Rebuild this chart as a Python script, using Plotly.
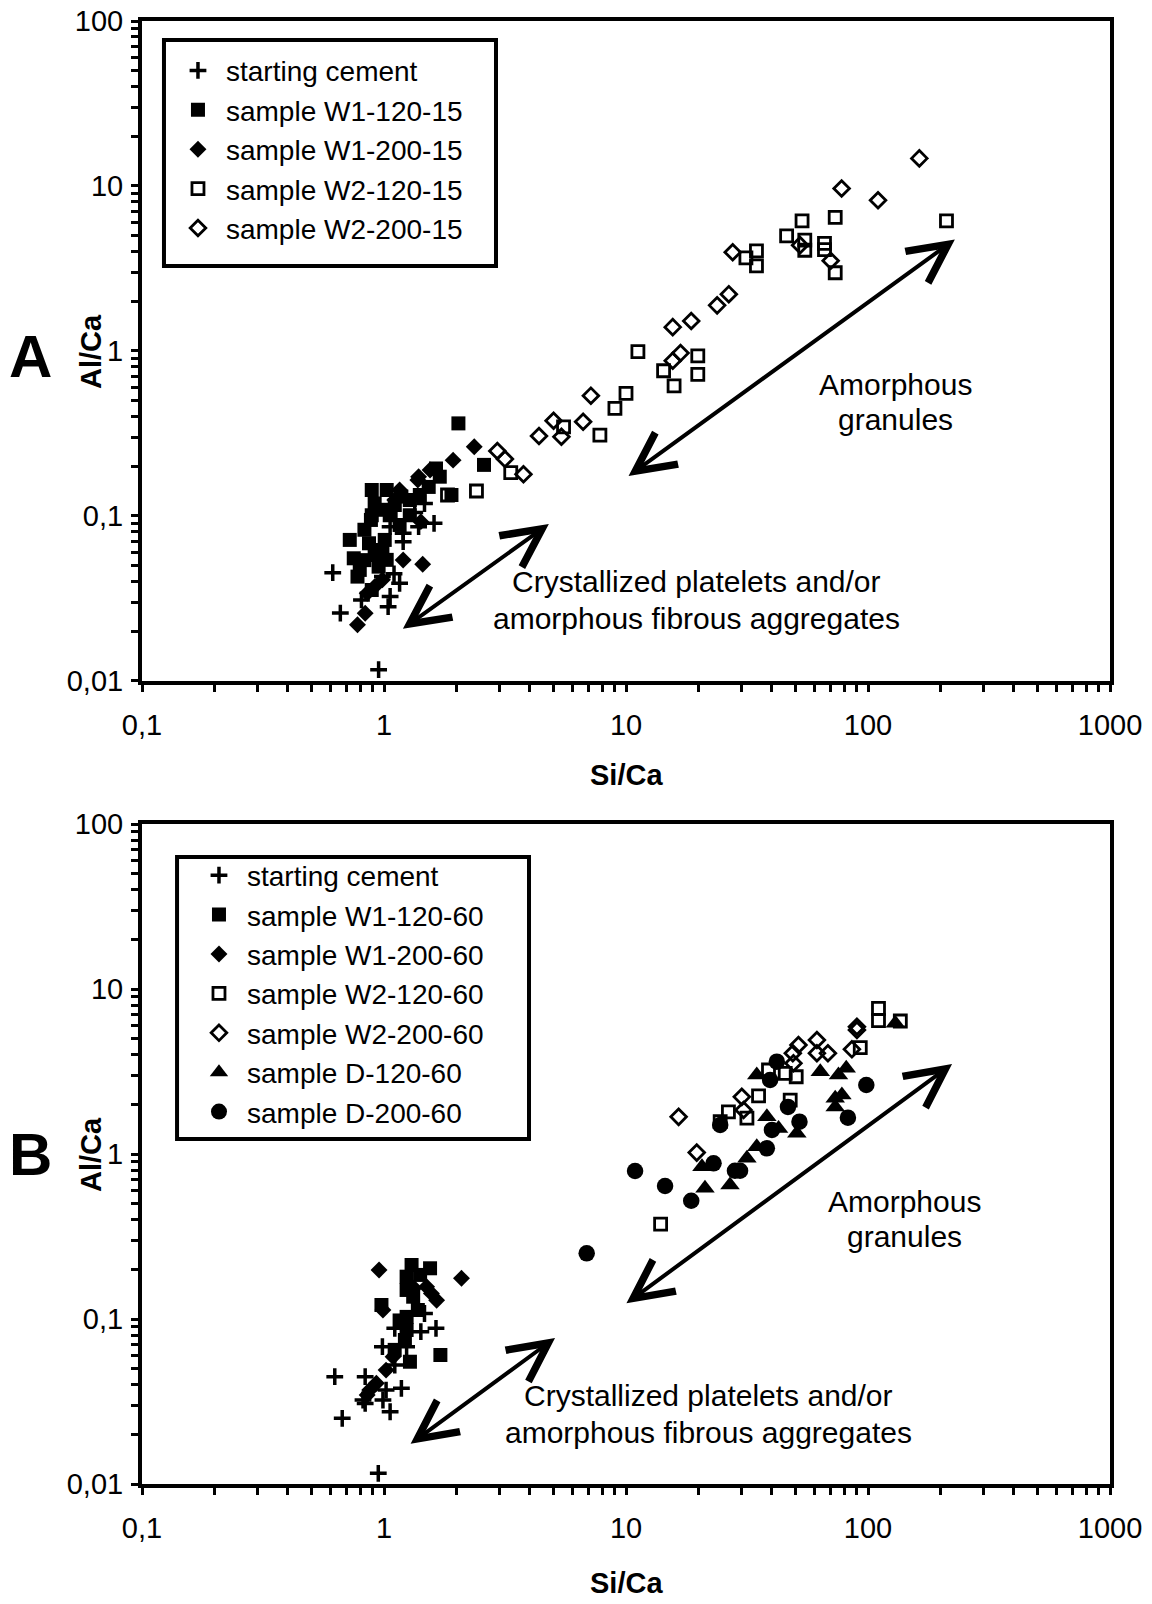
import numpy as np
import plotly.graph_objects as go

FONT = "Liberation Sans, Arial, sans-serif"

# ---------------- panel A data (Si/Ca, Al/Ca) ----------------
a_cement_x = [0.614, 0.66, 0.95, 1.61, 1.39, 1.47, 1.20, 1.20, 1.16, 1.04, 1.06, 0.807, 0.985, 1.10, 1.12, 1.06, 1.34]
a_cement_y = [0.0453, 0.0258, 0.0117, 0.0903, 0.0861, 0.119, 0.0786, 0.0699, 0.0391, 0.0282, 0.0325, 0.031, 0.0429, 0.0446, 0.0946, 0.0861, 0.105]

a_w1_120_x = [2.03, 2.59, 1.70, 1.90, 1.53, 1.64, 0.915, 0.985, 0.883, 1.18, 0.867, 0.985, 0.75, 0.777, 0.95, 1.056,
              1.108, 1.278, 1.406, 0.83, 0.915, 0.83, 0.89, 1.026, 0.89, 1.278, 1.16, 0.722, 1.007, 0.794, 0.89, 1.026]
a_w1_120_y = [0.364, 0.204, 0.173, 0.134, 0.150, 0.194, 0.119, 0.109, 0.0946, 0.131, 0.0683, 0.0622, 0.0554, 0.0429, 0.0493, 0.101,
              0.1165, 0.125, 0.134, 0.0825, 0.058, 0.054, 0.1437, 0.1437, 0.101, 0.101, 0.0882, 0.0716, 0.0716, 0.0471, 0.0356, 0.0542]

a_w1_200_x = [2.36, 1.93, 1.39, 1.16, 1.42, 1.20, 1.445, 0.777, 0.836, 0.915, 0.985, 0.852, 1.55, 1.38, 1.108]
a_w1_200_y = [0.263, 0.218, 0.173, 0.1437, 0.0924, 0.0541, 0.051, 0.0219, 0.0257, 0.0373, 0.041, 0.034, 0.19, 0.165, 0.125]

a_w2_120_x = [211, 73.2, 53.4, 46.1, 54.8, 54.8, 66.1, 66.1, 73.2, 34.6, 34.6, 31.3, 11.2, 19.8, 19.8, 14.3, 15.8, 10.0, 9.0, 7.8, 5.52, 3.34, 2.41, 1.83]
a_w2_120_y = [6.15, 6.45, 6.15, 4.99, 4.70, 4.08, 4.49, 4.11, 2.98, 4.04, 3.28, 3.67, 0.99, 0.935, 0.722, 0.759, 0.615, 0.553, 0.449, 0.309, 0.347, 0.183, 0.1417, 0.134]

a_w2_200_x = [163, 77.8, 110, 27.6, 52.4, 70.1, 26.6, 23.8, 18.6, 15.6, 16.8, 15.6, 7.16, 6.65, 5.02, 5.41, 4.37, 2.94, 3.16, 3.77]
a_w2_200_y = [14.7, 9.66, 8.2, 3.97, 4.38, 3.52, 2.21, 1.89, 1.52, 1.395, 0.971, 0.872, 0.536, 0.3725, 0.378, 0.302, 0.305, 0.2475, 0.2215, 0.179]

# ---------------- panel B data ----------------
b_cement_x = [0.626, 0.672, 0.836, 0.836, 1.06, 1.18, 1.64, 1.42, 1.47, 0.985, 1.108, 1.24, 0.947, 1.02, 0.99, 0.819, 1.108]
b_cement_y = [0.0447, 0.025, 0.0447, 0.0308, 0.0274, 0.038, 0.0878, 0.0838, 0.108, 0.068, 0.0878, 0.068, 0.0116, 0.0371, 0.0323, 0.0323, 0.0526]

b_w1_120_x = [1.30, 1.55, 1.24, 1.24, 1.32, 0.976, 1.24, 1.24, 1.22, 1.28, 1.71, 1.41, 1.16, 1.107, 1.38]
b_w1_120_y = [0.2125, 0.203, 0.1805, 0.15, 0.1365, 0.1216, 0.103, 0.0858, 0.0746, 0.0551, 0.0605, 0.185, 0.098, 0.065, 0.1134]

b_w1_200_x = [0.954, 2.09, 1.57, 1.65, 1.50, 0.99, 0.93, 0.873, 1.02, 1.09, 0.852, 1.33]
b_w1_200_y = [0.198, 0.1765, 0.143, 0.130, 0.157, 0.1134, 0.0408, 0.0371, 0.049, 0.059, 0.0346, 0.154]

b_w2_120_x = [110.5, 110.5, 136, 92.9, 50.5, 47.7, 45.5, 38.8, 35.3, 31.6, 26.5, 24.5, 13.9]
b_w2_120_y = [7.64, 6.43, 6.4, 4.41, 2.94, 2.12, 3.08, 3.23, 2.25, 1.65, 1.80, 1.57, 0.376]

b_w2_200_x = [16.5, 19.6, 30.1, 30.6, 51.6, 48.9, 49.2, 61.5, 61.5, 68.3, 90.0, 85.8, 90.0]
b_w2_200_y = [1.68, 1.02, 2.22, 1.85, 4.58, 4.08, 3.55, 4.91, 4.08, 4.08, 5.91, 4.31, 5.64]

b_d120_x = [34.7, 63.5, 75.5, 81.3, 73.2, 78.0, 73.2, 38.2, 42.7, 50.8, 34.7, 31.6, 20.6, 21.2, 26.9, 129.7]
b_d120_y = [3.01, 3.15, 3.01, 3.31, 2.18, 2.28, 1.93, 1.68, 1.43, 1.335, 1.107, 0.942, 0.838, 0.62, 0.649, 6.2]

b_d200_x = [10.9, 14.5, 18.6, 23.0, 28.2, 29.6, 38.2, 40.1, 46.7, 52.1, 42.0, 39.4, 24.5, 82.6, 98.4, 6.88]
b_d200_y = [0.789, 0.64, 0.521, 0.878, 0.792, 0.792, 1.083, 1.40, 1.93, 1.57, 3.63, 2.81, 1.50, 1.66, 2.62, 0.25]

# arrows: (tail x, tail y, head x, head y) in data units
a_arrows = [(10.1, 0.172, 228.5, 4.74), (1.18, 0.0204, 4.80, 0.0894)]
b_arrows = [(9.9, 0.1225, 222.5, 3.51), (1.27, 0.01724, 5.09, 0.0767)]

x_tickvals = [0.1, 1, 10, 100, 1000]
x_ticktext = ["0,1", "1", "10", "100", "1000"]
y_tickvals = [0.01, 0.1, 1, 10, 100]
y_ticktext = ["0,01", "0,1", "1", "10", "100"]

STYLE = {
    "cross": dict(symbol="cross-thin", size=12, color="black", line=dict(width=3.5, color="black")),
    "sq": dict(symbol="square", size=14, color="black", line=dict(width=0)),
    "dia": dict(symbol="diamond", size=13, color="black", line=dict(width=0)),
    "sq_open": dict(symbol="square-open", size=12, color="black", line=dict(width=2.8, color="black")),
    "dia_open": dict(symbol="diamond-open", size=12, color="black", line=dict(width=2.8, color="black")),
    "tri": dict(symbol="triangle-up", size=17, color="black", line=dict(width=0)),
    "circ": dict(symbol="circle", size=16.5, color="black", line=dict(width=0)),
}

fig = go.Figure()

panel_a = [
    ("starting cement", a_cement_x, a_cement_y, "cross"),
    ("sample W1-120-15", a_w1_120_x, a_w1_120_y, "sq"),
    ("sample W1-200-15", a_w1_200_x, a_w1_200_y, "dia"),
    ("sample W2-120-15", a_w2_120_x, a_w2_120_y, "sq_open"),
    ("sample W2-200-15", a_w2_200_x, a_w2_200_y, "dia_open"),
]
panel_b = [
    ("starting cement", b_cement_x, b_cement_y, "cross"),
    ("sample W1-120-60", b_w1_120_x, b_w1_120_y, "sq"),
    ("sample W1-200-60", b_w1_200_x, b_w1_200_y, "dia"),
    ("sample W2-120-60", b_w2_120_x, b_w2_120_y, "sq_open"),
    ("sample W2-200-60", b_w2_200_x, b_w2_200_y, "dia_open"),
    ("sample D-120-60", b_d120_x, b_d120_y, "tri"),
    ("sample D-200-60", b_d200_x, b_d200_y, "circ"),
]

for name, xs, ys, st in panel_a:
    fig.add_trace(go.Scatter(x=xs, y=ys, mode="markers", name=name, marker=STYLE[st],
                             xaxis="x", yaxis="y", legend="legend"))
for name, xs, ys, st in panel_b:
    fig.add_trace(go.Scatter(x=xs, y=ys, mode="markers", name=name, marker=STYLE[st],
                             xaxis="x2", yaxis="y2", legend="legend2"))

minor_x = [k * 10.0 ** e for e in range(-1, 3) for k in range(2, 10)]
minor_y = [k * 10.0 ** e for e in range(-2, 2) for k in range(2, 10)]


def xaxis_cfg(anchor):
    return dict(type="log", range=[-1, 3], anchor=anchor, tickvals=x_tickvals, ticktext=x_ticktext,
                ticks="outside", ticklen=7, tickwidth=3, tickcolor="black",
                minor=dict(tickvals=minor_x, ticks="outside", ticklen=7, tickwidth=3, tickcolor="black", showgrid=False),
                showline=True, linewidth=4, linecolor="black", mirror=True, showgrid=False, zeroline=False,
                tickfont=dict(family=FONT, size=29, color="black"), ticklabelstandoff=8, automargin=False)


def yaxis_cfg(anchor, domain):
    return dict(type="log", range=[-2, 2], anchor=anchor, domain=domain, tickvals=y_tickvals, ticktext=y_ticktext,
                ticks="outside", ticklen=7, tickwidth=3, tickcolor="black",
                minor=dict(tickvals=minor_y, ticks="outside", ticklen=7, tickwidth=3, tickcolor="black", showgrid=False),
                showline=True, linewidth=4, linecolor="black", mirror=True, showgrid=False, zeroline=False,
                tickfont=dict(family=FONT, size=29, color="black"), ticklabelstandoff=2, automargin=False)


annotations = []
for xa, ya, arrows in (("x", "y", a_arrows), ("x2", "y2", b_arrows)):
    for tx, ty, hx, hy in arrows:
        annotations.append(dict(
            x=np.log10(hx), y=np.log10(hy), ax=np.log10(tx), ay=np.log10(ty),
            xref=xa, yref=ya, axref=xa, ayref=ya, text="", showarrow=True,
            arrowhead=5, startarrowhead=5, arrowside="end+start",
            arrowsize=1.9, startarrowsize=1.9, arrowwidth=4, arrowcolor="black",
            standoff=0, startstandoff=0))

texts = [
    ("x", "y", 0.7779, 0.4485, "Amorphous"),
    ("x", "y", 0.7779, 0.3955, "granules"),
    ("x", "y", 0.5733, 0.1505, "Crystallized platelets and/or"),
    ("x", "y", 0.5733, 0.0947, "amorphous fibrous aggregates"),
    ("x2", "y2", 0.7882, 0.4277, "Amorphous"),
    ("x2", "y2", 0.7882, 0.3747, "granules"),
    ("x2", "y2", 0.5857, 0.1348, "Crystallized platelets and/or"),
    ("x2", "y2", 0.5857, 0.0773, "amorphous fibrous aggregates"),
]
for xa, ya, xd, yd, t in texts:
    annotations.append(dict(x=xd, y=yd, xref=xa + " domain", yref=ya + " domain", text=t, showarrow=False,
                            xanchor="center", yanchor="middle", font=dict(family=FONT, size=30, color="black")))

# axis titles and panel letters
for xa, ya, ty, letter, ly in (("x", "y", -0.1424, "A", 0.491), ("x2", "y2", -0.150, "B", 0.5)):
    annotations.append(dict(x=1, y=ty, xref=xa, yref=ya + " domain", text="<b>Si/Ca</b>", showarrow=False,
                            xanchor="center", yanchor="middle", font=dict(family=FONT, size=29, color="black")))
    annotations.append(dict(x=-0.0527, y=0, xref=xa + " domain", yref=ya, text="<b>Al/Ca</b>", showarrow=False,
                            textangle=-90, xanchor="center", yanchor="middle",
                            font=dict(family=FONT, size=29, color="black")))
    annotations.append(dict(x=-0.115, y=ly, xref=xa + " domain", yref=ya + " domain", text="<b>" + letter + "</b>",
                            showarrow=False, xanchor="center", yanchor="middle",
                            font=dict(family=FONT, size=60, color="black")))

# legend frames drawn as rectangles (paper coords)
legend_boxes = [(0.0227, 0.8325, 0.3657, 0.9870), (0.0362, 0.2358, 0.3998, 0.4286)]
shapes = [dict(type="rect", xref="paper", yref="paper", x0=x0, y0=y0, x1=x1, y1=y1,
               line=dict(color="black", width=4), fillcolor="rgba(0,0,0,0)", layer="above")
          for x0, y0, x1, y1 in legend_boxes]

legend_common = dict(xanchor="left", yanchor="top", bgcolor="rgba(0,0,0,0)", borderwidth=0,
                     font=dict(family=FONT, size=28, color="black"), tracegroupgap=0, itemwidth=46)

fig.update_layout(
    width=1152, height=1604,
    margin=dict(l=142, r=42, t=21, b=120),
    paper_bgcolor="white", plot_bgcolor="white",
    showlegend=True,
    xaxis=xaxis_cfg("y"),
    yaxis=yaxis_cfg("x", [0.5489, 1]),
    xaxis2=xaxis_cfg("y2"),
    yaxis2=yaxis_cfg("x2", [0, 0.4511]),
    legend=dict(x=0.0289, y=0.9831, **legend_common),
    legend2=dict(x=0.0506, y=0.4330, **legend_common),
    annotations=annotations,
    shapes=shapes,
)

fig.write_html("out.html", config={"displayModeBar": False},
               post_script="document.body.style.margin='0';")
